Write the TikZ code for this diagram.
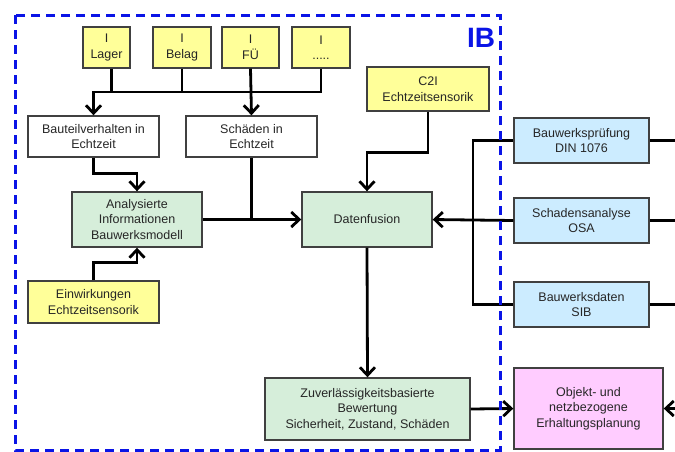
\documentclass[tikz,border=0pt]{standalone}
\usepackage{fontspec}
\setmainfont{Liberation Sans}
\usetikzlibrary{arrows.meta}
\definecolor{yfill}{HTML}{FFFF99}
\definecolor{gfill}{HTML}{D6EEDA}
\definecolor{bfill}{HTML}{CCECFF}
\definecolor{pfill}{HTML}{FFCCFF}
\definecolor{ibblue}{HTML}{0A14E6}
\begin{document}
\begin{tikzpicture}[x=1pt,y=-1pt,
  box/.style={draw=black!75, line width=1.4pt, align=center, inner sep=0pt,
    font=\fontsize{12.5}{15.5}\selectfont, text=black!85},
  ybox/.style={box, fill=yfill},
  gbox/.style={box, fill=gfill},
  bbox/.style={box, fill=bfill},
  pbox/.style={box, fill=pfill},
  wbox/.style={box, fill=white},
  ln/.style={line width=2.8pt, line join=miter},
  arr/.style={ln, -{Straight Barb[length=8pt,width=15pt]}}]
\useasboundingbox (0,0) rectangle (675,451);

% nodes
\node[ybox, minimum width=47pt, minimum height=41pt] (lager) at (106.5,47.5) {I\\Lager};
\node[ybox, minimum width=58pt, minimum height=41pt] (belag) at (182,47.5) {I\\Belag};
\node[ybox, minimum width=57pt, minimum height=41pt] (fue) at (250.5,47.5) {I\\FÜ};
\node[ybox, minimum width=58pt, minimum height=41pt] (dots) at (321,47.5) {I\\.....};
\node[wbox, minimum width=131pt, minimum height=41pt] (bauteil) at (93.5,136.5) {Bauteilverhalten in\\Echtzeit};
\node[wbox, minimum width=131pt, minimum height=41pt] (schaeden) at (251.5,136.5) {Schäden in\\Echtzeit};
\node[ybox, minimum width=122pt, minimum height=44pt] (c2i) at (428,89) {C2I\\Echtzeitsensorik};
\node[gbox, minimum width=130pt, minimum height=55pt] (analys) at (137,219.5) {Analysierte\\Informationen\\Bauwerksmodell};
\node[gbox, minimum width=130pt, minimum height=55pt] (daten) at (367,219.5) {Datenfusion};
\node[ybox, minimum width=131pt, minimum height=42pt] (einw) at (93.5,302) {Einwirkungen\\Echtzeitsensorik};
\node[bbox, minimum width=135pt, minimum height=45pt] (bwp) at (581.5,140.5) {Bauwerksprüfung\\DIN 1076};
\node[bbox, minimum width=135pt, minimum height=45pt] (sa) at (581.5,220.5) {Schadensanalyse\\OSA};
\node[bbox, minimum width=135pt, minimum height=45pt] (bwd) at (581.5,304.5) {Bauwerksdaten\\SIB};
\node[gbox, minimum width=205pt, minimum height=62pt] (zuv) at (367.5,409) {Zuverlässigkeitsbasierte\\Bewertung\\Sicherheit, Zustand, Schäden};
\node[pbox, minimum width=149pt, minimum height=81pt] (obj) at (588.5,408.5) {Objekt- und\\netzbezogene\\Erhaltungsplanung};

\coordinate (bus) at (0,92);
\coordinate (vx) at (473,0);
\coordinate (re) at (680,0);

% connectors
\draw[arr] (dots.south) |- (bauteil.north |- bus) -- (bauteil.north);
\draw[ln] (lager.south) ++(5,0) -- ++(0,24);
\draw[ln] (belag.south) -- (belag.south |- bus);
\draw[arr] (fue.south) -- (schaeden.north);
\draw[arr] (bauteil.south) -- ++(0,16) -| (analys.north);
\draw[arr] (einw.north) -- ++(0,-18) -| (analys.south);
\draw[arr] (analys.east) -- (daten.west);
\draw[ln] (schaeden.south) -- (schaeden.south |- daten.west);
\draw[arr] (c2i.south) -- ++(0,41) -| (daten.north);
\draw[ln] (bwp.west) -| (vx |- bwd.west) -- (bwd.west);
\draw[arr] (sa.west) -- (daten.east);
\draw[ln] (bwp.east) -- (re |- bwp.east);
\draw[ln] (sa.east) -- (re |- sa.east);
\draw[ln] (bwd.east) -- (re |- bwd.east);
\draw[arr] (daten.south) -- (zuv.north);
\draw[arr] (zuv.east) -- (obj.west);
\draw[arr] (re |- obj.east) -- (obj.east);

% IB frame
\draw[ibblue, line width=3pt, dash pattern=on 9pt off 6pt] (15,15) rectangle (500,450);
\node[text=ibblue, font=\bfseries\fontsize{28}{28}\selectfont, inner sep=0pt] (ib) at (481,38) {IB};
\end{tikzpicture}
\end{document}
